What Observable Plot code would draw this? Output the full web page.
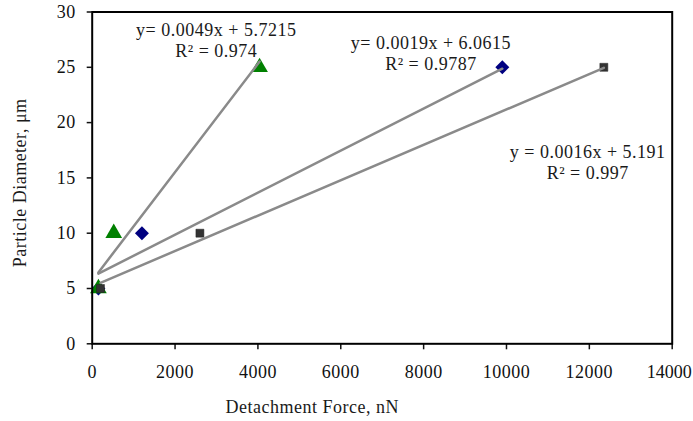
<!DOCTYPE html>
<html>
<head>
<meta charset="utf-8">
<script src="https://cdn.jsdelivr.net/npm/d3@7"></script>
<script src="https://cdn.jsdelivr.net/npm/@observablehq/plot@0.6"></script>
<style>
  html, body { margin: 0; padding: 0; background: #fff; }
  svg text { letter-spacing: 0.5px; }
  svg .last-tick text { letter-spacing: 0px; }
</style>
</head>
<body>
<div id="chart"></div>
<script>
// Series data (Detachment Force nN, Particle Diameter µm)
const triX = [150, 520, 4040];
const triY = [5, 10, 25];
const diaX = [150, 1200, 9900];
const diaY = [5, 10, 25];
const sqX = [200, 2600, 12350];
const sqY = [5, 10, 25];

// Trendline equations as printed on chart
const fitNames = ["tri", "dia", "sq"];
const fitSlopes = [0.0049, 0.0019, 0.0016];
const fitIntercepts = [5.7215, 6.0615, 5.191];

// Annotation labels
const labelText = [
  "y= 0.0049x + 5.7215\nR² = 0.974",
  "y= 0.0019x + 6.0615\nR² = 0.9787",
  "y = 0.0016x + 5.191\nR² = 0.997"
];
const labelX = [2995, 8176, 11961];
const labelY = [27.47, 26.29, 16.48];

const xTicks = [0, 2000, 4000, 6000, 8000, 10000, 12000, 14000];
const yTicks = [0, 5, 10, 15, 20, 25, 30];
const xMax = d3.max(xTicks);

const toPts = (xs, ys) => xs.map((x, i) => ({x, y: ys[i]}));
const tri = toPts(triX, triY);
const dia = toPts(diaX, diaY);
const sq = toPts(sqX, sqY);
const seriesX = {tri: triX, dia: diaX, sq: sqX};
const fits = fitNames.flatMap((n, i) => {
  const xs = seriesX[n];
  const x0 = d3.min(xs), x1 = d3.max(xs);
  return [
    {s: n, x: x0, y: fitSlopes[i] * x0 + fitIntercepts[i]},
    {s: n, x: x1, y: fitSlopes[i] * x1 + fitIntercepts[i]}
  ];
});
const labels = labelText.map((t, i) => ({t, x: labelX[i], y: labelY[i]}));

const chart = Plot.plot({
  width: 693,
  height: 421,
  marginLeft: 91.7,
  marginRight: 21.3,
  marginTop: 11.5,
  marginBottom: 77.7,
  style: {fontFamily: "Liberation Serif, serif", fontSize: "18px", color: "#111", background: "#fff"},
  x: {domain: [0, 14000], tickFormat: d => String(d), label: null},
  y: {domain: [0, 30], ticks: yTicks, tickFormat: d => String(d), label: null},
  marks: [
    Plot.axisX({ticks: xTicks, tickSize: 6, tickPadding: 15, tickFormat: d => d === xMax ? "" : String(d), label: null, strokeWidth: 1.5}),
    Plot.axisX({ticks: [xMax], tickSize: 0, tickPadding: 21, tickFormat: d => String(d), label: null, dx: -3, className: "last-tick"}),
    Plot.axisY({ticks: yTicks, tickSize: 5, tickPadding: 11.5, tickFormat: d => String(d), label: null, strokeWidth: 1.5}),
    Plot.dot(dia, {x: "x", y: "y", symbol: "diamond2", r: 6.3, fill: "#000080", stroke: "none"}),
    Plot.dot(tri, {x: "x", y: "y", symbol: "triangle", r: 6.2, fill: "#008000", stroke: "none"}),
    Plot.dot(sq, {x: "x", y: "y", symbol: "square", r: 4.5, fill: "#333333", stroke: "#222", strokeWidth: 0.5}),
    Plot.line(fits, {x: "x", y: "y", z: "s", stroke: "#8a8a8a", strokeWidth: 2.5}),
    Plot.frame({stroke: "#000", strokeWidth: 2}),
    Plot.text(labels, {x: "x", y: "y", text: "t", textAnchor: "middle", lineAnchor: "middle", lineHeight: 1.17, fill: "#1a1a1a"}),
    Plot.text(["Detachment Force, nN"], {frameAnchor: "bottom-left", dx: 220, dy: 63, textAnchor: "middle", lineAnchor: "middle", fill: "#1a1a1a"}),
    Plot.text(["Particle Diameter, μm"], {frameAnchor: "left", dx: -72, dy: 5, rotate: -90, textAnchor: "middle", lineAnchor: "middle", fill: "#1a1a1a"})
  ]
});
document.getElementById("chart").appendChild(chart);
</script>
</body>
</html>
